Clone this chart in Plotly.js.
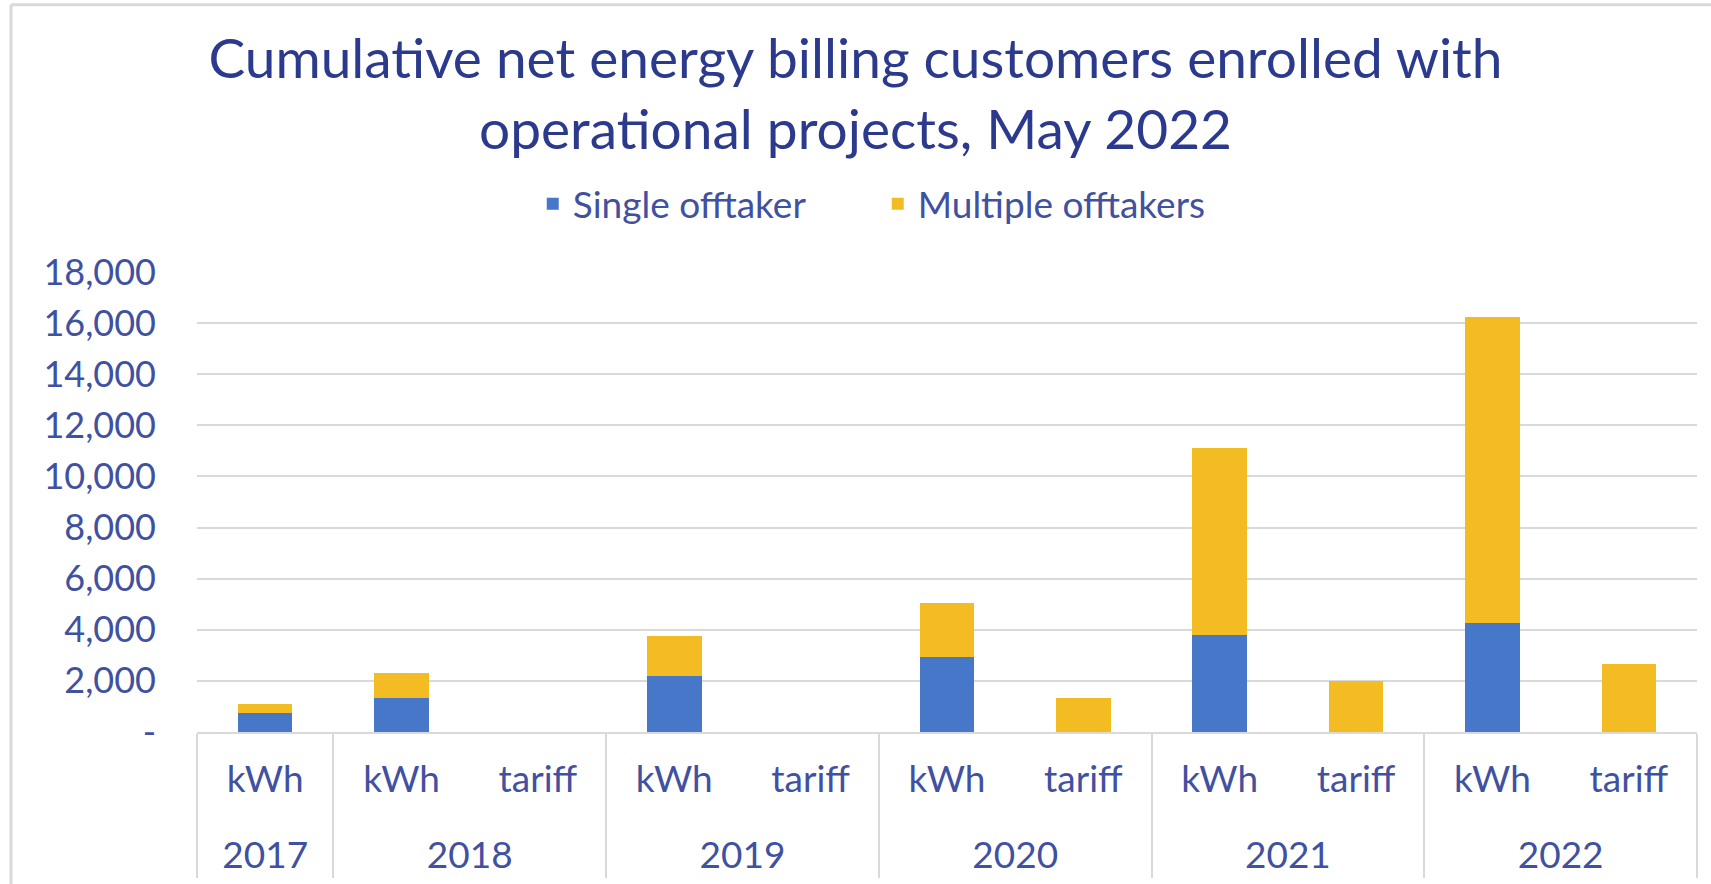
<!DOCTYPE html>
<html>
<head>
<meta charset="utf-8">
<script src="https://cdn.plot.ly/plotly-3.0.1.min.js"></script>
<style>html,body{margin:0;padding:0;background:#fff;}#chart{width:1711px;height:884px;}</style>
</head>
<body>
<div id="chart"></div>
<script>
const years = ['2017','2018','2018','2019','2019','2020','2020','2021','2021','2022','2022'];
const rateTypes = ['kWh','kWh','tariff','kWh','tariff','kWh','tariff','kWh','tariff','kWh','tariff'];
const singleOfftaker = [740, 1350, 0, 2200, 0, 2950, 0, 3810, 0, 4250, 0];
const multipleOfftakers = [340, 940, 0, 1550, 0, 2100, 1330, 7290, 2000, 12000, 2680];
const yTickVals = [0, 2000, 4000, 6000, 8000, 10000, 12000, 14000, 16000, 18000];
const yTickText = ['-', '2,000', '4,000', '6,000', '8,000', '10,000', '12,000', '14,000', '16,000', '18,000'];

const FONT = 'Lato, "Open Sans", sans-serif';
const TICKCOL = '#3F51A0';
const TITLECOL = '#2B3A8C';

// display labels: extra blank line below the inner category row to widen the row gap
const rateLabels = rateTypes.map(t => t + '<br><span style="font-size:14px"> </span>');

const traces = [
  {type:'bar', name:'Single offtaker', x:[years, rateLabels], y:singleOfftaker,
   marker:{color:'#4677C8'}, hoverinfo:'y'},
  {type:'bar', name:'Multiple offtakers', x:[years, rateLabels], y:multipleOfftakers,
   marker:{color:'#F3BC22'}, hoverinfo:'y'}
];

const layout = {
  width:1711, height:884,
  paper_bgcolor:'#fff', plot_bgcolor:'#fff',
  barmode:'stack', bargap:0.6,
  margin:{l:197, r:14, t:272, b:152},
  font:{family:FONT, color:TICKCOL},
  title:{text:'Cumulative net energy billing customers enrolled with<br>operational projects, May 2022',
    font:{family:FONT, size:55, color:TITLECOL}, x:0.5, xanchor:'center', y:0.912, yanchor:'middle', yref:'container'},
  legend:{orientation:'h', x:0.513, xanchor:'center', xref:'container', y:0.769, yanchor:'middle', yref:'container',
    font:{family:FONT, size:37, color:TICKCOL}, itemwidth:30, entrywidth:300, traceorder:'normal'},
  xaxis:{type:'multicategory', tickfont:{family:FONT, size:37, color:TICKCOL},
    showdividers:true, dividercolor:'#D9D9D9', dividerwidth:2,
    showgrid:false, zeroline:false, showline:true, linecolor:'#D9D9D9', linewidth:2,
    ticks:'', ticklabelstandoff:14, fixedrange:true},
  yaxis:{range:[0,18000], tickvals:yTickVals, ticktext:yTickText,
    tickfont:{family:FONT, size:36, color:TICKCOL},
    showgrid:true, gridcolor:'#D9D9D9', gridwidth:2, zeroline:false,
    showline:false, ticks:'', ticklabelstandoff:40, fixedrange:true},
  shapes:[
    {type:'line', xref:'paper', yref:'paper', x0:-0.124, x1:1.01, y0:1.581, y1:1.581, line:{color:'#D9D9D9', width:3}},
    {type:'line', xref:'paper', yref:'paper', x0:-0.124, x1:-0.124, y0:1.581, y1:-0.35, line:{color:'#D9D9D9', width:3}}
  ]
};

Plotly.newPlot('chart', traces, layout, {displayModeBar:false, staticPlot:true});
</script>
</body>
</html>
